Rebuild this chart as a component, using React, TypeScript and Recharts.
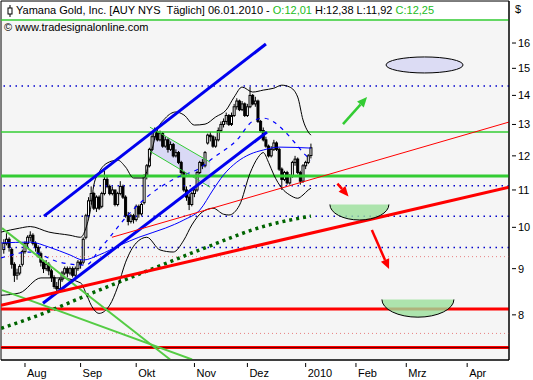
import React from "react";
import {
  ComposedChart,
  Bar,
  Line,
  Area,
  XAxis,
  YAxis,
  CartesianGrid,
  ReferenceLine,
  ReferenceDot,
  ReferenceArea,
} from "recharts";

const X_MIN = -9.06;
const X_MAX = 182.8;
const Y_MIN = 7.13;
const Y_MAX = 17.81;
const FIRST_DAY = -8; // trading-day index of first candle (0 = 3 Aug 2009)

const opens = [
  9.45, 9.6, 9.7, 9.45, 9.1, 8.85, 8.9, 9.1,
  9.4, 9.6, 9.75, 9.8, 9.6, 9.5, 9.35, 9.15, 9.0, 9.1,
  8.95, 8.8, 8.6, 8.55, 8.75, 8.9, 9.0, 8.9, 9.0, 8.85,
  9.0, 9.15, 9.15, 9.75, 10.3, 10.7, 10.9, 10.5, 10.8, 10.55,
  10.9, 11.3, 11.1, 10.9, 11.0, 10.6, 10.9, 11.1, 10.8, 10.3,
  10.15, 10.3, 10.2, 10.55, 10.35, 10.65, 11.4, 11.7, 12.2, 12.6,
  12.75, 12.5, 12.7, 12.3, 12.5, 12.2, 12.35, 12.0, 12.1, 11.8,
  11.5, 11.0, 10.8, 10.6, 10.9, 11.0, 11.5, 11.8, 11.7, 12.4,
  12.65, 12.6, 12.3, 12.5, 12.8, 13.0, 13.1, 13.3, 13.0, 13.3,
  13.6, 13.8, 13.5, 13.7, 13.3, 13.6, 14.0, 13.7, 13.8, 13.1,
  12.8, 12.5, 12.3, 12.0, 12.2, 12.4, 12.2, 11.6, 11.3, 11.5,
  11.2, 11.4, 11.8, 11.9, 11.5, 11.25, 11.7, 11.8, 12.01,
];
const highs = [
  9.7, 9.85, 9.75, 9.5, 9.15, 9.0, 9.1, 9.45,
  9.65, 9.8, 9.9, 9.85, 9.65, 9.55, 9.4, 9.2, 9.2, 9.15,
  9.0, 8.85, 8.7, 8.8, 8.95, 9.05, 9.05, 9.05, 9.05, 9.05,
  9.2, 9.2, 9.75, 10.35, 10.8, 11.1, 10.95, 10.85, 10.85, 10.95,
  11.55, 11.4, 11.15, 11.1, 11.0, 10.95, 11.25, 11.15, 10.85, 10.4,
  10.35, 10.35, 10.6, 10.6, 10.65, 11.45, 11.75, 12.25, 12.7, 12.9,
  12.8, 12.8, 12.75, 12.6, 12.55, 12.45, 12.4, 12.2, 12.15, 11.85,
  11.55, 11.1, 10.9, 10.95, 11.1, 11.55, 11.85, 11.9, 12.15, 12.7,
  12.75, 12.65, 12.6, 12.9, 13.1, 13.2, 13.4, 13.35, 13.4, 13.7,
  13.9, 13.85, 13.8, 13.75, 13.7, 14.3, 14.05, 13.95, 13.85, 13.15,
  12.9, 12.6, 12.35, 12.3, 12.5, 12.45, 12.25, 11.65, 11.55, 11.55,
  11.45, 11.85, 12.0, 11.95, 11.55, 11.75, 11.85, 12.05, 12.38,
];
const lows = [
  9.35, 9.55, 9.4, 9.0, 8.7, 8.75, 8.85, 9.05,
  9.35, 9.5, 9.65, 9.55, 9.4, 9.25, 9.05, 8.9, 8.95, 8.85,
  8.7, 8.55, 8.48, 8.5, 8.7, 8.85, 8.8, 8.85, 8.8, 8.8,
  8.95, 9.0, 9.1, 9.7, 10.25, 10.6, 10.45, 10.4, 10.45, 10.5,
  10.85, 11.05, 10.85, 10.85, 10.55, 10.55, 10.85, 10.75, 10.25, 10.05,
  10.1, 10.1, 10.15, 10.25, 10.3, 10.6, 11.3, 11.65, 12.15, 12.5,
  12.45, 12.45, 12.25, 12.25, 12.1, 12.15, 11.95, 11.95, 11.75, 11.4,
  10.95, 10.7, 10.45, 10.55, 10.8, 10.95, 11.45, 11.6, 11.65, 12.35,
  12.45, 12.25, 12.25, 12.45, 12.75, 12.9, 13.0, 12.95, 12.95, 13.25,
  13.5, 13.45, 13.45, 13.25, 13.25, 13.55, 13.65, 13.6, 13.05, 12.75,
  12.45, 12.25, 11.95, 11.95, 12.15, 12.15, 11.55, 11.0, 11.25, 11.15,
  11.15, 11.35, 11.7, 11.45, 11.15, 11.2, 11.6, 11.75, 11.92,
];
const closes = [
  9.6, 9.7, 9.5, 9.1, 8.85, 8.9, 9.05, 9.4,
  9.6, 9.75, 9.8, 9.6, 9.5, 9.35, 9.15, 9.0, 9.1, 8.95,
  8.8, 8.6, 8.55, 8.75, 8.9, 9.0, 8.9, 9.0, 8.85, 9.0,
  9.15, 9.1, 9.7, 10.3, 10.7, 10.9, 10.5, 10.8, 10.5, 10.9,
  11.3, 11.1, 10.9, 11.0, 10.6, 10.9, 11.1, 10.8, 10.3, 10.15,
  10.3, 10.2, 10.55, 10.35, 10.6, 11.4, 11.7, 12.2, 12.6, 12.75,
  12.5, 12.7, 12.3, 12.5, 12.2, 12.35, 12.0, 12.1, 11.8, 11.5,
  11.0, 10.8, 10.6, 10.9, 11.0, 11.5, 11.8, 11.7, 12.1, 12.65,
  12.6, 12.3, 12.5, 12.8, 13.0, 13.1, 13.3, 13.0, 13.3, 13.6,
  13.8, 13.5, 13.7, 13.3, 13.6, 14.0, 13.7, 13.8, 13.1, 12.8,
  12.5, 12.3, 12.0, 12.2, 12.4, 12.2, 11.6, 11.3, 11.5, 11.2,
  11.4, 11.8, 11.9, 11.5, 11.25, 11.7, 11.8, 12.0, 12.25,
];

// Bollinger bands and moving averages (read at sparse days)
const upperBandDays = [-9, -2, 2, 9, 17, 21, 23, 25, 26, 28, 31, 35, 38, 41, 45, 47, 50, 53, 57, 60, 64, 68, 72, 76, 79, 82, 86, 90, 94, 97, 100, 103, 105, 107, 108];
const upperBand = [9.88, 9.98, 10.02, 9.88, 9.8, 9.75, 9.98, 10.58, 11.14, 11.51, 11.78, 11.87, 11.66, 11.34, 11.34, 11.87, 12.82, 13.21, 13.42, 13.32, 12.98, 13.01, 13.25, 13.49, 13.94, 14.3, 14.12, 14.19, 14.26, 14.37, 14.3, 13.94, 13.15, 12.75, 12.65];
const lowerBandDays = [-9, -2, 6, 13, 21, 23, 25, 28, 32, 35, 38, 42, 46, 51, 56, 60, 63, 67, 71, 75, 77, 81, 85, 88, 90, 92, 94, 97, 100, 103, 105, 107, 108];
const lowerBand = [8.41, 8.46, 8.79, 8.79, 8.68, 8.46, 8.2, 8.03, 8.2, 8.59, 9.15, 9.61, 9.75, 9.44, 9.39, 9.68, 10.06, 10.4, 10.5, 10.34, 10.32, 10.58, 11.48, 11.95, 12.1, 11.8, 11.43, 11.05, 10.86, 10.77, 10.86, 11.0, 11.05];
const midDays = [-9, 2, 9, 17, 22, 28, 36, 43, 53, 60, 66, 71, 75, 80, 85, 90, 96, 108];
const midLine = [9.61, 9.63, 9.51, 9.32, 9.2, 9.32, 9.56, 9.75, 9.98, 10.19, 10.45, 11.0, 11.43, 11.81, 12.05, 12.18, 12.27, 12.24];
const dashDays = [-9, 2, 13, 23, 28, 32, 38, 46, 57, 66, 71, 80, 86, 90, 94, 98, 102, 106, 108];
const dashLine = [9.25, 9.39, 9.15, 9.08, 9.44, 9.75, 10.25, 10.8, 11.34, 11.63, 11.93, 12.49, 13.11, 13.21, 13.08, 12.78, 12.4, 12.02, 11.87];
const longMaDays = [-9, 3, 28, 47, 66, 92, 108];
const longMa = [7.73, 7.95, 8.52, 8.97, 9.44, 10.06, 10.29];

// flag pattern
const flagDays = [48, 69.9];
const flagHigh = [12.86, 11.81];
const flagLow = [12.1, 11.08];

const blueDotLevels = [14.34, 11.12, 10.29, 9.5];
const pinkDotLevels = [9.28, 7.63];
const redLevels = [8.12, 7.36];

const monthTicks = [0, 21, 42, 64, 84, 106, 125, 144, 167];
const monthLabels = ["Aug", "Sep", "Okt", "Nov", "Dez", "2010", "Feb", "Mrz", "Apr"];
const priceTicks = [8, 9, 10, 11, 12, 13, 14, 15, 16];

const FONT = "'Liberation Sans', Arial, sans-serif";

const candles = opens.map((o, k) => ({
  i: FIRST_DAY + k,
  o,
  h: highs[k],
  l: lows[k],
  c: closes[k],
}));

const series = (days: number[], vals: number[]) =>
  days.map((d, k) => ({ i: d, v: vals[k] }));

const flagData = flagDays.map((d, k) => ({ i: d, lo: flagLow[k], hi: flagHigh[k] }));

function Candle(props: any) {
  const { x, y, width, height, payload } = props;
  if (x == null || y == null || !payload) return null;
  const top = Math.min(y, y + height);
  const bot = Math.max(y, y + height);
  const { o, h, l, c } = payload;
  const span = Math.log(h) - Math.log(l) || 1;
  const py = (v: number) => top + ((bot - top) * (Math.log(h) - Math.log(v))) / span;
  const cx = x + width / 2;
  const yo = py(o);
  const yc = py(c);
  const up = c >= o;
  return (
    <g>
      <line x1={cx} x2={cx} y1={top} y2={bot} stroke="#000" strokeWidth={1} />
      <rect
        x={cx - 1}
        y={Math.min(yo, yc)}
        width={2}
        height={Math.max(1, Math.abs(yc - yo))}
        fill={up ? "#fff" : "#000"}
        stroke="#000"
        strokeWidth={1}
      />
    </g>
  );
}

const arrowShape = (color: string) => (p: any) => {
  const { x1, y1, x2, y2 } = p;
  if (x1 == null) return null;
  const a = Math.atan2(y2 - y1, x2 - x1);
  const len = 10;
  const half = 4.5;
  const bx = x2 - len * Math.cos(a);
  const by = y2 - len * Math.sin(a);
  const pts = `${x2},${y2} ${bx + half * Math.sin(a)},${by - half * Math.cos(a)} ${bx - half * Math.sin(a)},${by + half * Math.cos(a)}`;
  return (
    <g>
      <line x1={x1} y1={y1} x2={bx} y2={by} stroke={color} strokeWidth={2.5} />
      <polygon points={pts} fill={color} />
    </g>
  );
};

const bowlShape = (rx: number, depth: number) => (p: any) => {
  const { cx, cy } = p;
  if (cx == null) return null;
  const d = `M${cx - rx},${cy} A${rx},${depth} 0 0 0 ${cx + rx},${cy}`;
  return (
    <g>
      <path d={d + " Z"} fill="#9be09b" fillOpacity={0.8} stroke="none" />
      <path d={d} fill="none" stroke="#000" strokeWidth={1} />
    </g>
  );
};

function MonthTick(props: any) {
  const { x, y, index } = props;
  return (
    <g>
      <line x1={x} x2={x} y1={y + 3} y2={y + 7} stroke="#000" />
      <text x={x + 2} y={y + 17} fontSize={11} fontFamily={FONT} fill="#000">
        {monthLabels[index]}
      </text>
    </g>
  );
}

function PriceTick(props: any) {
  const { x, y, payload } = props;
  return (
    <g>
      <line x1={x + 3} x2={x + 7} y1={y} y2={y} stroke="#000" />
      <text x={x + 9} y={y + 4} fontSize={11} fontFamily={FONT} fill="#000">
        {payload.value}
      </text>
    </g>
  );
}

const seg = (x1: number, y1: number, x2: number, y2: number) => [
  { x: x1, y: y1 },
  { x: x2, y: y2 },
];

export default function App() {
  return (
    <div style={{ position: "absolute", left: 0, top: 0, width: 533, height: 380, background: "#fff" }}>
      <ComposedChart
        width={533}
        height={380}
        data={candles}
        margin={{ top: 1, right: 0, bottom: 0, left: 1 }}
      >
        <CartesianGrid fill="#f5f5f5" horizontal={false} vertical={false} />
        <XAxis
          dataKey="i"
          type="number"
          domain={[X_MIN, X_MAX]}
          allowDataOverflow
          ticks={monthTicks}
          interval={0}
          tickSize={0}
          tickMargin={0}
          tick={<MonthTick />}
          axisLine={{ stroke: "#000" }}
          height={20}
        />
        <YAxis
          orientation="right"
          scale="log"
          domain={[Y_MIN, Y_MAX]}
          allowDataOverflow
          ticks={priceTicks}
          interval={0}
          tickSize={0}
          tickMargin={0}
          tick={<PriceTick />}
          axisLine={{ stroke: "#000" }}
          width={24}
        />

        {blueDotLevels.map((v) => (
          <ReferenceLine key={"b" + v} y={v} stroke="#0000cc" strokeWidth={1.5} strokeDasharray="1.5 4.5" />
        ))}
        {pinkDotLevels.map((v) => (
          <ReferenceLine key={"p" + v} y={v} stroke="#e88080" strokeWidth={1} strokeDasharray="1 3" />
        ))}
        <ReferenceLine y={16.97} stroke="#33cc33" strokeWidth={1.5} />
        <ReferenceLine y={12.75} stroke="#33cc33" strokeWidth={1.5} />
        <ReferenceLine y={11.4} stroke="#33cc33" strokeWidth={3} />
        {redLevels.map((v) => (
          <ReferenceLine key={"r" + v} y={v} stroke="#ff0000" strokeWidth={3} />
        ))}
        <ReferenceLine y={7.36} stroke="#660000" strokeWidth={1} />

        <Area
          data={flagData}
          dataKey={(d: any) => [d.lo, d.hi]}
          type="linear"
          fill="#d4d4f4"
          fillOpacity={0.85}
          stroke="none"
          isAnimationActive={false}
        />

        <Line data={series(longMaDays, longMa)} dataKey="v" type="monotone" stroke="#006400" strokeWidth={3.5} strokeDasharray="3 4" dot={false} isAnimationActive={false} />
        <Line data={series(upperBandDays, upperBand)} dataKey="v" type="monotone" stroke="#000" strokeWidth={1} dot={false} isAnimationActive={false} />
        <Line data={series(lowerBandDays, lowerBand)} dataKey="v" type="monotone" stroke="#000" strokeWidth={1} dot={false} isAnimationActive={false} />
        <Line data={series(midDays, midLine)} dataKey="v" type="monotone" stroke="#0000ff" strokeWidth={1} dot={false} isAnimationActive={false} />
        <Line data={series(dashDays, dashLine)} dataKey="v" type="monotone" stroke="#0000ff" strokeWidth={1.2} strokeDasharray="4 5" dot={false} isAnimationActive={false} />

        <Bar
          dataKey={(d: any) => [d.l, d.h]}
          barSize={3}
          shape={(p: any) => <Candle {...p} />}
          isAnimationActive={false}
        />

        {/* trend lines */}
        <ReferenceLine segment={seg(-8.69, 9.98, 54.8, 7.14)} stroke="#55cc44" strokeWidth={2} ifOverflow="hidden" />
        <ReferenceLine segment={seg(-8.69, 8.52, 63.1, 7.14)} stroke="#55cc44" strokeWidth={2} ifOverflow="hidden" />
        <ReferenceLine segment={seg(47.2, 12.91, 69.9, 11.81)} stroke="#33cc33" strokeWidth={1} />
        <ReferenceLine segment={seg(47.2, 12.14, 69.9, 11.08)} stroke="#33cc33" strokeWidth={1} />
        <ReferenceLine segment={seg(7.18, 10.29, 91.0, 15.96)} stroke="#0000ee" strokeWidth={3} />
        <ReferenceLine segment={seg(6.8, 8.24, 91.4, 12.75)} stroke="#0000ee" strokeWidth={3} />
        <ReferenceLine segment={seg(32.85, 9.75, 182.8, 13.08)} stroke="#ff0000" strokeWidth={1} ifOverflow="hidden" />
        <ReferenceLine segment={seg(-9.06, 8.2, 182.8, 11.08)} stroke="#ff0000" strokeWidth={3} ifOverflow="hidden" />

        {/* forecast drawings */}
        <ReferenceLine segment={seg(120.1, 13.01, 129.2, 13.94)} shape={arrowShape("#33cc33")} />
        <ReferenceLine segment={seg(118.0, 11.18, 122.2, 10.82)} shape={arrowShape("#ff0000")} />
        <ReferenceLine segment={seg(131.0, 9.93, 137.5, 8.99)} shape={arrowShape("#ff0000")} />
        <ReferenceDot
          x={150.9}
          y={15.13}
          shape={(p: any) =>
            p.cx == null ? null : (
              <ellipse cx={p.cx} cy={p.cy} rx={38.5} ry={8} fill="#dcdcf4" stroke="#000" strokeWidth={1} />
            )
          }
        />
        <ReferenceDot x={126.3} y={10.6} shape={bowlShape(29.5, 15.5)} />
        <ReferenceDot x={148.4} y={8.32} shape={bowlShape(36, 17.7)} />

        <ReferenceArea x1={X_MIN} x2={X_MAX} y1={Y_MIN} y2={Y_MAX} fill="none" stroke="#000" strokeWidth={1} ifOverflow="visible" />
      </ComposedChart>

      <div
        style={{
          position: "absolute",
          left: 2,
          top: 2,
          width: 506,
          height: 17,
          background: "#fff",
          fontFamily: FONT,
          fontSize: 11,
          lineHeight: "17px",
          whiteSpace: "nowrap",
          color: "#000",
        }}
      >
        <svg width={14} height={17} style={{ verticalAlign: "top" }}>
          <line x1={8} x2={8} y1={3} y2={15} stroke="#000" />
          <rect x={6} y={6} width={4} height={6} fill="#fff" stroke="#000" />
        </svg>
        <span>Yamana Gold, Inc. [AUY NYS&nbsp; Täglich] 06.01.2010 - </span>
        <span style={{ color: "#22bb22" }}>O:12,01 </span>
        <span>H:12,38 L:11,92 </span>
        <span style={{ color: "#22bb22" }}>C:12,25</span>
      </div>
      <div
        style={{
          position: "absolute",
          left: 4,
          top: 20,
          fontFamily: FONT,
          fontSize: 11,
          lineHeight: "14px",
          color: "#000",
          whiteSpace: "nowrap",
        }}
      >
        © www.tradesignalonline.com
      </div>
      <div
        style={{
          position: "absolute",
          left: 515,
          top: 2,
          fontFamily: FONT,
          fontSize: 11,
          lineHeight: "14px",
          color: "#000",
        }}
      >
        $
      </div>
    </div>
  );
}
